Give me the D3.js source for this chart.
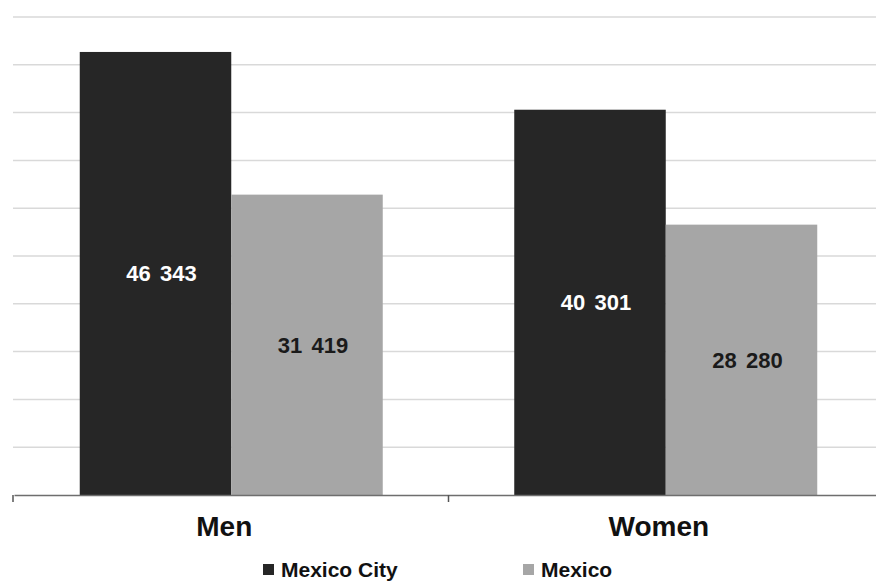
<!DOCTYPE html>
<html>
<head>
<meta charset="utf-8">
<script src="https://cdn.jsdelivr.net/npm/d3@7"></script>
<style>
  html, body { margin: 0; padding: 0; background: #fff; }
  svg { display: block; }
  text { font-family: "Liberation Sans", Arial, sans-serif; font-weight: bold; }
</style>
</head>
<body>
<svg id="chart" width="876" height="583"></svg>
<script>
// Average income by sex
const categories = ["Men", "Women"];
const seriesNames = ["Mexico City", "Mexico"];
const mexicoCity = [46343, 40301];
const mexico = [31419, 28280];
const yTicks = [0, 5000, 10000, 15000, 20000, 25000, 30000, 35000, 40000, 45000, 50000];

const seriesValues = [mexicoCity, mexico];
const colors = ["#262626", "#a6a6a6"];
const labelColors = ["#ffffff", "#1a1a1a"];

const W = 876, H = 583;
const plotLeft = 13, plotRight = 883, baseY = 495, topY = 17;

const svg = d3.select("#chart");

const y = d3.scaleLinear().domain([0, 50000]).range([baseY, topY]);
const x0 = d3.scaleBand().domain(categories).range([plotLeft + 1, plotRight]).paddingInner(0).paddingOuter(0);
const x1 = d3.scaleBand().domain(seriesNames).range([0, x0.bandwidth()]).paddingInner(0).paddingOuter(0.434);
const color = d3.scaleOrdinal().domain(seriesNames).range(colors);

// horizontal gridlines
svg.append("g")
  .selectAll("line")
  .data(yTicks.filter(d => d > 0))
  .join("line")
  .attr("x1", plotLeft).attr("x2", W)
  .attr("y1", d => y(d)).attr("y2", d => y(d))
  .attr("stroke", "#d9d9d9").attr("stroke-width", 1.5);

// bars
const rows = categories.map((c, i) => ({
  cat: c,
  vals: seriesNames.map((s, j) => ({ series: s, j, value: seriesValues[j][i] }))
}));

const groups = svg.append("g")
  .selectAll("g")
  .data(rows)
  .join("g")
  .attr("transform", d => `translate(${x0(d.cat)},0)`);

groups.selectAll("rect")
  .data(d => d.vals)
  .join("rect")
  .attr("x", d => x1(d.series))
  .attr("width", x1.bandwidth())
  .attr("y", d => y(d.value))
  .attr("height", d => y(0) - y(d.value))
  .attr("fill", d => color(d.series));

// value labels, centred in each bar (space as thousands separator)
const fmt = v => d3.format(",")(v).replace(",", " ");
groups.selectAll("text.val")
  .data(d => d.vals)
  .join("text")
  .attr("class", "val")
  .attr("x", d => x1(d.series) + x1.bandwidth() / 2 + 6)
  .attr("y", d => (y(d.value) + y(0)) / 2)
  .attr("dy", "0.36em")
  .attr("text-anchor", "middle")
  .attr("font-size", 22)
  .attr("word-spacing", 3)
  .attr("fill", d => labelColors[d.j])
  .text(d => fmt(d.value));

// category axis
const axis = d3.axisBottom(x0).tickSize(0).tickPadding(0);
const gAxis = svg.append("g").attr("transform", `translate(0,${baseY})`).call(axis);
gAxis.select(".domain").attr("stroke", "#6e6e6e").attr("stroke-width", 1.5);
gAxis.selectAll(".tick text")
  .attr("font-size", 28)
  .attr("fill", "#111")
  .attr("font-family", "Liberation Sans, Arial, sans-serif")
  .attr("font-weight", "bold")
  .attr("dx", -7)
  .attr("y", 41)
  .attr("dy", 0);

// category boundary ticks
const boundaries = categories.map(c => x0(c)).concat([x0.range()[1]]);
boundaries[0] = plotLeft;
gAxis.append("g")
  .selectAll("line")
  .data(boundaries)
  .join("line")
  .attr("x1", d => d).attr("x2", d => d)
  .attr("y1", 0).attr("y2", 7)
  .attr("stroke", "#555").attr("stroke-width", 1.5);

// legend
const legendX = [263, 523];
const legend = svg.append("g")
  .selectAll("g")
  .data(seriesNames)
  .join("g")
  .attr("transform", (d, i) => `translate(${legendX[i]},577)`);
legend.append("rect")
  .attr("x", 0).attr("y", -13)
  .attr("width", 11).attr("height", 11)
  .attr("fill", d => color(d));
legend.append("text")
  .attr("x", 18).attr("y", 0)
  .attr("font-size", 21)
  .attr("fill", "#111")
  .text(d => d);
</script>
</body>
</html>
